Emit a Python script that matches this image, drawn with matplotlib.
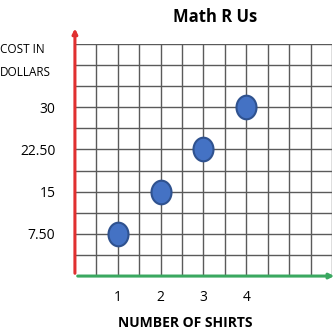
import numpy as np
import matplotlib
matplotlib.use("Agg")
import matplotlib.pyplot as plt
from matplotlib.path import Path

plt.rcParams['font.family'] = ['Open Sans', 'DejaVu Sans']

shirts = [1, 2, 3, 4]
cost = [7.5, 15, 22.5, 30]
ytick_vals = [7.5, 15, 22.5, 30]
ytick_labels = ["7.50", "15", "22.50", "30"]
xtick_labels = ["1", "2", "3", "4"]

fig = plt.figure(figsize=(3.36, 3.33), dpi=100)
ax = fig.add_axes([0.223, 0.171, 0.765, 0.697])
ax.set_xlim(0, 6)
ax.set_ylim(0, 41.25)

# grid
for gx in np.arange(0.5, 6.01, 0.5):
    ax.axvline(gx, color='#5a5a5a', lw=1.0, zorder=1)
for gy in np.arange(3.75, 41.3, 3.75):
    ax.axhline(gy, color='#5a5a5a', lw=1.0, zorder=1)

# slightly tall ellipse marker
t = np.linspace(0, 2 * np.pi, 60)
ell = Path(np.column_stack([np.cos(t), 1.18 * np.sin(t)]))
ax.plot(shirts, cost, linestyle='none', marker=ell, markersize=17,
        markerfacecolor='#4472C4', markeredgecolor='#2F528F', markeredgewidth=1.5, zorder=5)

for s in ax.spines.values():
    s.set_visible(False)

# axes arrows
ax.annotate('', xy=(0, 44.5), xytext=(0, 0), xycoords='data', annotation_clip=False,
            arrowprops=dict(arrowstyle='-|>', color='#e03030', lw=2.2, mutation_scale=7))
ax.annotate('', xy=(6.12, 0), xytext=(0, 0), xycoords='data', annotation_clip=False,
            arrowprops=dict(arrowstyle='-|>', color='#3aa860', lw=2.2, mutation_scale=7))

ax.set_xticks(shirts)
ax.set_xticklabels(xtick_labels, fontsize=10)
ax.set_yticks(ytick_vals)
ax.set_yticklabels(ytick_labels, fontsize=10)
ax.tick_params(length=0, pad=14)
ax.tick_params(axis='x', pad=10)

fig.text(0.64, 0.948, "Math R Us", ha='center', va='center', fontsize=12, fontweight='bold')
fig.text(0.0, 0.85, "COST IN", ha='left', va='center', fontsize=8.5, fontweight='medium')
fig.text(0.0, 0.783, "DOLLARS", ha='left', va='center', fontsize=8.5, fontweight='medium')
fig.text(0.55, 0.03, "NUMBER OF SHIRTS", ha='center', va='center', fontsize=10, fontweight='bold')

fig.savefig("out.png", dpi=100)
